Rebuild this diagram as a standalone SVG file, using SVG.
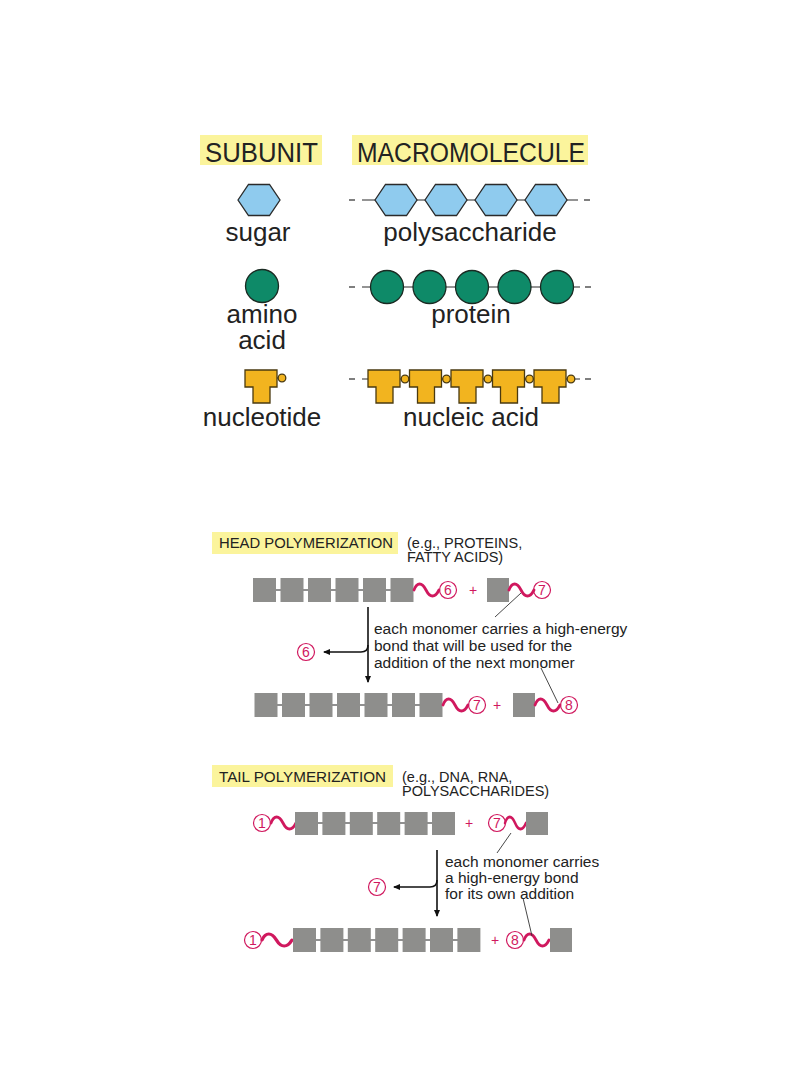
<svg xmlns="http://www.w3.org/2000/svg" width="810" height="1080" viewBox="0 0 810 1080">
<style>
.t{font-family:"Liberation Sans",Arial,sans-serif;fill:#222}
.big{font-size:26px}
.hdr{font-size:27px}
.lab{font-size:14.5px}
.txt{font-size:15.5px}
.num{font-family:"Liberation Sans",Arial,sans-serif;font-size:14px;fill:#d0185e;text-anchor:middle}
.hl{fill:#fbf49c}
.hex{fill:#8fcbee;stroke:#2a2a2a;stroke-width:1.3}
.aa{fill:#0e8a68;stroke:#1a2a22;stroke-width:1.3}
.nt{fill:#f2b41f;stroke:#4a3a10;stroke-width:1.3}
.bb{stroke:#2a2a2a;stroke-width:1.2;fill:none}
.sq{fill:#8e8e8c}
.lk{stroke:#222;stroke-width:1.2}
.wv{fill:none;stroke:#d0185e;stroke-width:2.8;stroke-linecap:round}
.cn{fill:none;stroke:#d0185e;stroke-width:1.2}
.ar{fill:none;stroke:#111;stroke-width:1.6}
.ld{stroke:#333;stroke-width:0.9}
</style>
<defs>
<marker id="ah" markerWidth="8" markerHeight="8" refX="6" refY="4" orient="auto" markerUnits="userSpaceOnUse">
<path d="M0,1 L7,4 L0,7 Z" fill="#111"/>
</marker>
<polygon id="hx" points="-21,0 -10.5,-15.5 10.5,-15.5 21,0 10.5,15.5 -10.5,15.5"/>
<path id="tee" d="M0,0 h32 v17 h-7 v16 h-17 v-16 h-8 z"/>
<path id="wave" d="M0,0 C3,-8 8,-8 12,0 S21,8 25,0"/>
</defs>

<!-- Top: subunits and macromolecules -->
<g id="hdr-subunit">
<rect class="hl" x="200" y="135" width="122" height="30"/>
<text class="t hdr" x="205" y="162" textLength="113" lengthAdjust="spacingAndGlyphs">SUBUNIT</text>
</g>
<g id="hdr-macro">
<rect class="hl" x="352" y="135" width="236" height="30"/>
<text class="t hdr" x="357" y="162" textLength="228" lengthAdjust="spacingAndGlyphs">MACROMOLECULE</text>
</g>

<g id="sugar">
<use href="#hx" class="hex" x="259" y="200"/>
<text class="t big" x="258" y="241" text-anchor="middle">sugar</text>
</g>
<g id="polysaccharide">
<line class="bb" x1="349" y1="200" x2="355" y2="200"/>
<line class="bb" x1="362" y1="200" x2="578" y2="200"/>
<line class="bb" x1="584" y1="200" x2="590" y2="200"/>
<use href="#hx" class="hex" x="396" y="200"/>
<use href="#hx" class="hex" x="446" y="200"/>
<use href="#hx" class="hex" x="496" y="200"/>
<use href="#hx" class="hex" x="546" y="200"/>
<text class="t big" x="470" y="241" text-anchor="middle">polysaccharide</text>
</g>

<g id="amino-acid">
<circle class="aa" cx="262" cy="286" r="16.5"/>
<text class="t big" x="262" y="323" text-anchor="middle">amino</text>
<text class="t big" x="262" y="349" text-anchor="middle">acid</text>
</g>
<g id="protein">
<line class="bb" x1="349" y1="287" x2="355" y2="287"/>
<line class="bb" x1="362" y1="287" x2="580" y2="287"/>
<line class="bb" x1="585" y1="287" x2="591" y2="287"/>
<circle class="aa" cx="387" cy="287" r="16.5"/>
<circle class="aa" cx="429.5" cy="287" r="16.5"/>
<circle class="aa" cx="472" cy="287" r="16.5"/>
<circle class="aa" cx="514.5" cy="287" r="16.5"/>
<circle class="aa" cx="557" cy="287" r="16.5"/>
<text class="t big" x="471" y="323" text-anchor="middle">protein</text>
</g>

<g id="nucleotide">
<use href="#tee" class="nt" x="245" y="370"/>
<line class="bb" x1="277" y1="378" x2="279" y2="378"/>
<circle class="nt" cx="282" cy="378" r="3.8"/>
<text class="t big" x="262" y="426" text-anchor="middle">nucleotide</text>
</g>
<g id="nucleic-acid">
<line class="bb" x1="349" y1="379" x2="355" y2="379"/>
<line class="bb" x1="362" y1="379" x2="580" y2="379"/>
<line class="bb" x1="585" y1="379" x2="591" y2="379"/>
<use href="#tee" class="nt" x="368" y="370"/>
<circle class="nt" cx="405" cy="379" r="3.8"/>
<use href="#tee" class="nt" x="409.5" y="370"/>
<circle class="nt" cx="446.5" cy="379" r="3.8"/>
<use href="#tee" class="nt" x="451" y="370"/>
<circle class="nt" cx="488" cy="379" r="3.8"/>
<use href="#tee" class="nt" x="492.5" y="370"/>
<circle class="nt" cx="529.5" cy="379" r="3.8"/>
<use href="#tee" class="nt" x="534" y="370"/>
<circle class="nt" cx="571" cy="379" r="3.8"/>
<text class="t big" x="471" y="426" text-anchor="middle">nucleic acid</text>
</g>

<!-- Head polymerization -->
<g id="head-title">
<rect class="hl" x="212" y="532" width="186" height="22"/>
<text class="t lab" x="219" y="548" textLength="174" lengthAdjust="spacingAndGlyphs">HEAD POLYMERIZATION</text>
<text class="t lab" x="407" y="548">(e.g., PROTEINS,</text>
<text class="t lab" x="407" y="562">FATTY ACIDS)</text>
</g>

<g id="head-row1">
<line class="lk" x1="253" y1="590" x2="413" y2="590"/>
<rect class="sq" x="253" y="578" width="23" height="24"/>
<rect class="sq" x="280.5" y="578" width="23" height="24"/>
<rect class="sq" x="308" y="578" width="23" height="24"/>
<rect class="sq" x="335.5" y="578" width="23" height="24"/>
<rect class="sq" x="363" y="578" width="23" height="24"/>
<rect class="sq" x="390.5" y="578" width="23" height="24"/>
<use href="#wave" class="wv" x="414" y="590"/>
<circle class="cn" cx="448" cy="590" r="8.5"/>
<text class="num" x="448" y="595">6</text>
<text class="num" x="473" y="595">+</text>
<rect class="sq" x="487" y="578" width="22" height="24"/>
<use href="#wave" class="wv" x="509" y="590"/>
<circle class="cn" cx="542" cy="590" r="8.5"/>
<text class="num" x="542" y="595">7</text>
</g>

<g id="head-row2">
<line class="lk" x1="255" y1="705" x2="442" y2="705"/>
<rect class="sq" x="254.5" y="693" width="23" height="24"/>
<rect class="sq" x="282" y="693" width="23" height="24"/>
<rect class="sq" x="309.5" y="693" width="23" height="24"/>
<rect class="sq" x="337" y="693" width="23" height="24"/>
<rect class="sq" x="364.5" y="693" width="23" height="24"/>
<rect class="sq" x="392" y="693" width="23" height="24"/>
<rect class="sq" x="419.5" y="693" width="23" height="24"/>
<use href="#wave" class="wv" x="443" y="705"/>
<circle class="cn" cx="477" cy="705" r="8.5"/>
<text class="num" x="477" y="710">7</text>
<text class="num" x="497" y="710">+</text>
<rect class="sq" x="513" y="693" width="22" height="24"/>
<use href="#wave" class="wv" x="535" y="705"/>
<circle class="cn" cx="569" cy="705" r="8.5"/>
<text class="num" x="569" y="710">8</text>
</g>

<g id="head-released">
<circle class="cn" cx="306" cy="652" r="8.5"/>
<text class="num" x="306" y="657">6</text>
</g>

<g id="head-note">
<text class="t txt" x="374" y="634">each monomer carries a high-energy</text>
<text class="t txt" x="374" y="651">bond that will be used for the</text>
<text class="t txt" x="374" y="668">addition of the next monomer</text>
</g>

<!-- Tail polymerization -->
<g id="tail-title">
<rect class="hl" x="212" y="765" width="181" height="22"/>
<text class="t lab" x="219" y="782" textLength="167" lengthAdjust="spacingAndGlyphs">TAIL POLYMERIZATION</text>
<text class="t lab" x="402" y="782">(e.g., DNA, RNA,</text>
<text class="t lab" x="402" y="796">POLYSACCHARIDES)</text>
</g>

<g id="tail-row1">
<circle class="cn" cx="262" cy="823" r="8.5"/>
<text class="num" x="262" y="828">1</text>
<use href="#wave" class="wv" x="271" y="823"/>
<line class="lk" x1="295" y1="823" x2="455" y2="823"/>
<rect class="sq" x="295" y="812" width="23" height="23"/>
<rect class="sq" x="322.4" y="812" width="23" height="23"/>
<rect class="sq" x="349.8" y="812" width="23" height="23"/>
<rect class="sq" x="377.2" y="812" width="23" height="23"/>
<rect class="sq" x="404.6" y="812" width="23" height="23"/>
<rect class="sq" x="432" y="812" width="23" height="23"/>
<text class="num" x="469" y="828">+</text>
<circle class="cn" cx="497" cy="823" r="8.5"/>
<text class="num" x="497" y="828">7</text>
<use href="#wave" class="wv" x="505" y="823" transform="translate(505 823) scale(0.84 1) translate(-505 -823)"/>
<rect class="sq" x="526" y="812" width="22" height="23"/>
</g>

<g id="tail-row2">
<circle class="cn" cx="253" cy="940" r="8.5"/>
<text class="num" x="253" y="945">1</text>
<use href="#wave" class="wv" x="262" y="940" transform="translate(262 940) scale(1.2 1) translate(-262 -940)"/>
<line class="lk" x1="293" y1="940" x2="480" y2="940"/>
<rect class="sq" x="293" y="928" width="23" height="24"/>
<rect class="sq" x="320.4" y="928" width="23" height="24"/>
<rect class="sq" x="347.8" y="928" width="23" height="24"/>
<rect class="sq" x="375.2" y="928" width="23" height="24"/>
<rect class="sq" x="402.6" y="928" width="23" height="24"/>
<rect class="sq" x="430" y="928" width="23" height="24"/>
<rect class="sq" x="457.4" y="928" width="23" height="24"/>
<text class="num" x="495" y="945">+</text>
<circle class="cn" cx="515" cy="940" r="8.5"/>
<text class="num" x="515" y="945">8</text>
<use href="#wave" class="wv" x="524" y="940"/>
<rect class="sq" x="550" y="928" width="22" height="24"/>
</g>

<g id="tail-released">
<circle class="cn" cx="377" cy="887" r="8.5"/>
<text class="num" x="377" y="892">7</text>
</g>

<g id="tail-note">
<text class="t txt" x="445" y="867">each monomer carries</text>
<text class="t txt" x="445" y="883">a high-energy bond</text>
<text class="t txt" x="445" y="899">for its own addition</text>
</g>

<g id="connectors">
<path class="ar" d="M368,607 V682" marker-end="url(#ah)"/>
<path class="ar" d="M368,645 Q368,652 361,652 H324" marker-end="url(#ah)"/>
<line class="ld" x1="495" y1="617" x2="521" y2="593"/>
<line class="ld" x1="541" y1="668" x2="558" y2="703"/>
<path class="ar" d="M437,850 V916" marker-end="url(#ah)"/>
<path class="ar" d="M437,880 Q437,887 430,887 H394" marker-end="url(#ah)"/>
<line class="ld" x1="497" y1="853" x2="511" y2="833"/>
<line class="ld" x1="523" y1="898" x2="532" y2="936"/>
</g>
</svg>
